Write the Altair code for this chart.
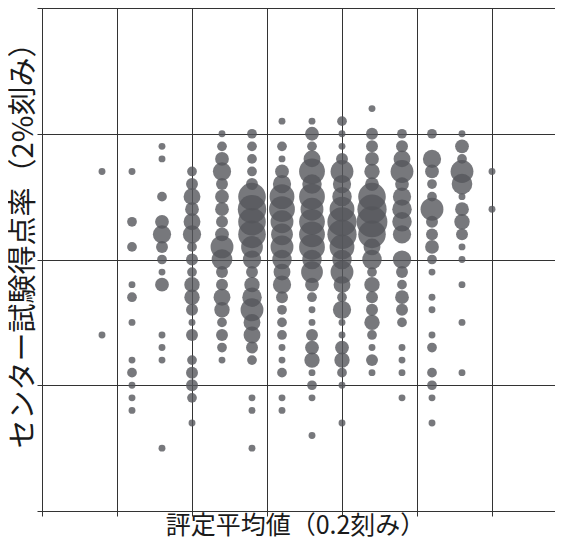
import altair as alt
import pandas as pd

# 評定平均値 (0.2刻み) columns
rating_cols = [2.4, 2.6, 2.8, 3.0, 3.2, 3.4, 3.6, 3.8, 4.0, 4.2, 4.4, 4.6, 4.8, 5.0]

# センター試験得点率 (2%刻み) rows per column, and number of students at each
rate_24 = [74, 48]
n_24 = [1, 1]
rate_26 = [74, 66, 62, 56, 54, 50, 44, 42, 40, 38, 36]
n_26 = [1, 2, 2, 1, 2, 1, 1, 2, 1, 1, 1]
rate_28 = [78, 76, 70, 66, 64, 62, 60, 58, 56, 48, 46, 44, 30]
n_28 = [1, 1, 2, 4, 7, 3, 2, 1, 4, 1, 1, 1, 1]
rate_30 = [74, 72, 70, 68, 66, 64, 62, 60, 58, 56, 54, 52, 50, 48, 44, 42, 40, 38, 34]
n_30 = [2, 3, 6, 4, 6, 7, 2, 3, 2, 5, 5, 3, 1, 3, 2, 3, 3, 2, 1]
rate_32 = [80, 78, 76, 74, 72, 70, 68, 66, 64, 62, 60, 58, 56, 54, 52, 50, 48, 46, 44]
n_32 = [1, 2, 4, 7, 3, 4, 4, 3, 4, 11, 9, 3, 3, 6, 5, 2, 3, 2, 1]
rate_34 = [80, 78, 76, 74, 72, 70, 68, 66, 64, 62, 60, 58, 56, 54, 52, 50, 48, 46, 44, 38, 36, 30]
n_34 = [2, 2, 2, 2, 3, 16, 17, 16, 16, 10, 7, 3, 5, 8, 11, 6, 6, 3, 2, 1, 1, 1]
rate_36 = [82, 78, 76, 74, 72, 70, 68, 66, 64, 62, 60, 58, 56, 54, 52, 50, 48, 46, 44, 42, 38, 36]
n_36 = [1, 2, 1, 4, 7, 13, 14, 11, 10, 11, 8, 6, 7, 3, 2, 2, 2, 1, 1, 2, 1, 1]
rate_38 = [82, 80, 78, 76, 74, 72, 70, 68, 66, 64, 62, 60, 58, 56, 54, 52, 50, 48, 46, 44, 42, 40, 38, 32]
n_38 = [1, 4, 2, 6, 14, 8, 14, 11, 14, 14, 14, 8, 10, 4, 2, 1, 1, 3, 4, 5, 1, 2, 1, 1]
rate_40 = [82, 80, 78, 76, 74, 72, 70, 68, 66, 64, 62, 60, 58, 56, 54, 52, 50, 48, 46, 44, 42, 40, 34]
n_40 = [2, 1, 1, 3, 11, 7, 8, 13, 18, 18, 13, 8, 11, 6, 2, 7, 1, 1, 4, 5, 2, 1, 1]
rate_42 = [84, 80, 78, 76, 74, 72, 70, 68, 66, 64, 62, 60, 58, 56, 54, 52, 50, 48, 46, 44, 42]
n_42 = [1, 3, 3, 4, 5, 4, 16, 18, 20, 16, 6, 8, 2, 5, 3, 3, 5, 2, 1, 3, 1]
rate_44 = [80, 78, 76, 74, 72, 70, 68, 66, 64, 60, 58, 56, 54, 52, 50, 46, 44, 42, 38]
n_44 = [2, 3, 6, 11, 4, 7, 8, 8, 7, 7, 3, 2, 4, 3, 2, 1, 1, 1, 1]
rate_46 = [80, 76, 74, 72, 70, 68, 66, 64, 62, 60, 58, 54, 52, 48, 46, 42, 40, 38, 34]
n_46 = [2, 7, 4, 2, 2, 11, 3, 3, 4, 2, 1, 1, 1, 1, 2, 2, 2, 1, 1]
rate_48 = [80, 78, 76, 74, 72, 70, 68, 66, 64, 62, 60, 56, 50, 42]
n_48 = [1, 4, 2, 11, 9, 1, 4, 5, 3, 1, 1, 1, 1, 1]
rate_50 = [74, 68]
n_50 = [1, 1]

rate_lists = [rate_24, rate_26, rate_28, rate_30, rate_32, rate_34, rate_36,
              rate_38, rate_40, rate_42, rate_44, rate_46, rate_48, rate_50]
count_lists = [n_24, n_26, n_28, n_30, n_32, n_34, n_36,
               n_38, n_40, n_42, n_44, n_46, n_48, n_50]

x_ticks = [2.0, 2.5, 3.0, 3.5, 4.0, 4.5, 5.0]
y_ticks = [20, 40, 60, 80, 100]

rows = []
for xv, rates, counts in zip(rating_cols, rate_lists, count_lists):
    for r, c in zip(rates, counts):
        rows.append({"rating": xv, "rate": r, "count": c})
df = pd.DataFrame(rows)

FONT = "Noto Sans CJK JP"
LINE = "#333333"

chart = alt.Chart(df).mark_circle(color="#55565b", opacity=0.8, strokeWidth=0).encode(
    x=alt.X("rating:Q",
            scale=alt.Scale(domain=[2.0, 5.42], nice=False, zero=False),
            axis=alt.Axis(values=x_ticks, labels=False, tickSize=5, grid=True,
                          title="評定平均値（0.2刻み）",
                          titleFont=FONT, titleFontSize=25, titleFontWeight="normal",
                          titleColor="#1a1a1a", titleX=253, titleY=2,
                          titleAlign="center", titleBaseline="top")),
    y=alt.Y("rate:Q",
            scale=alt.Scale(domain=[20, 100], nice=False, zero=False),
            axis=alt.Axis(values=y_ticks, labels=False, tickSize=5, grid=True,
                          title="センター試験得点率（2%刻み）",
                          titleFont=FONT, titleFontSize=29, titleFontWeight="normal",
                          titleColor="#1a1a1a", titleAngle=270, titleX=-19, titleY=230,
                          titleAlign="center", titleBaseline="middle")),
    size=alt.Size("count:Q", scale=alt.Scale(domain=[0, 20], range=[0, 950]), legend=None),
).properties(
    width=513,
    height=503,
    autosize=alt.AutoSizeParams(type="none"),
    padding={"left": 34, "top": 0, "right": 0, "bottom": 28},
).configure_axis(
    domainColor=LINE, domainWidth=1, tickColor=LINE, tickWidth=1,
    gridColor=LINE, gridWidth=1, gridOpacity=1,
).configure_view(
    strokeWidth=0
)

chart.save("out.html", embed_options={"renderer": "svg", "actions": False})
